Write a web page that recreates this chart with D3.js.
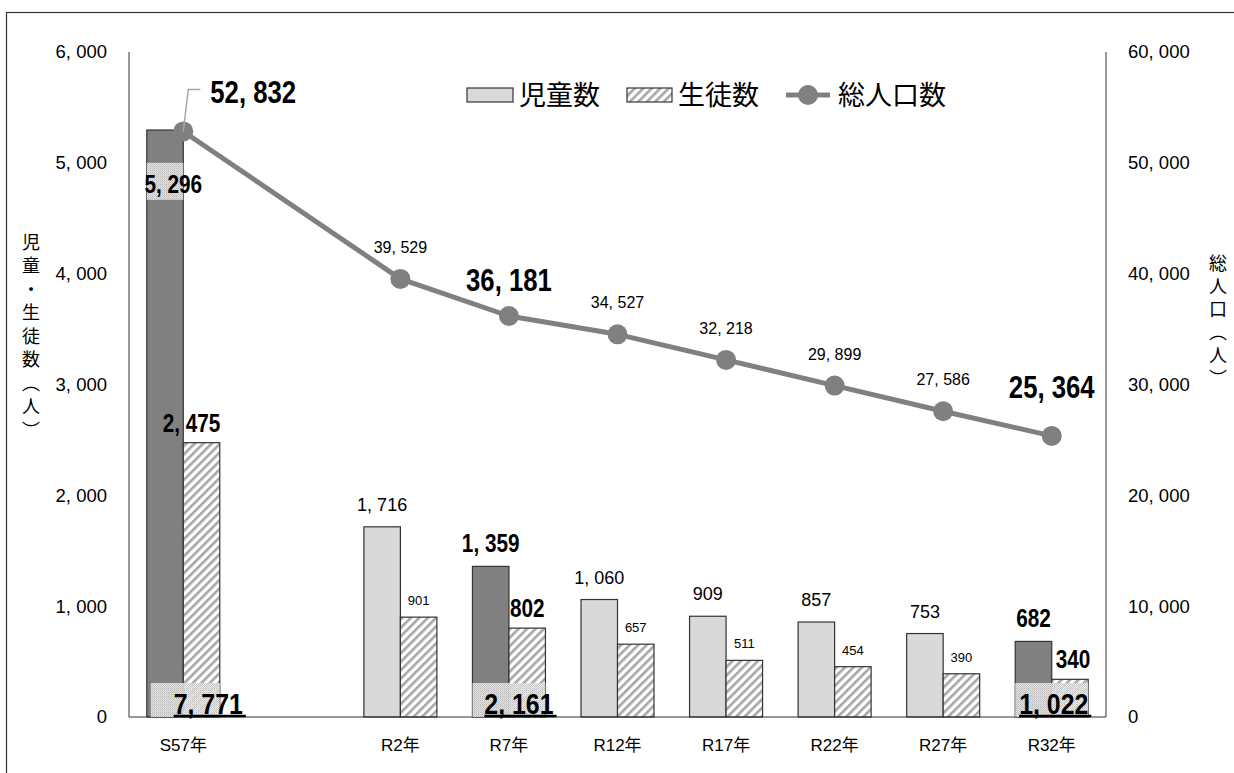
<!DOCTYPE html>
<html><head><meta charset="utf-8">
<script src="https://cdn.jsdelivr.net/npm/d3@7"></script>
<style>
html,body{margin:0;padding:0;background:#fff;}
svg{display:block;}
</style></head>
<body>
<svg id="chart" width="1234" height="773"></svg>
<script>
// ---- data ----
const categories = ["S57年","R2年","R7年","R12年","R17年","R22年","R27年","R32年"];
const children   = [5296, 1716, 1359, 1060, 909, 857, 753, 682];
const students   = [2475, 901, 802, 657, 511, 454, 390, 340];
const population = [52832, 39529, 36181, 34527, 32218, 29899, 27586, 25364];
const highlighted = ["S57年","R7年","R32年"];
const leftTicks  = [0,1000,2000,3000,4000,5000,6000];
const rightTicks = [0,10000,20000,30000,40000,50000,60000];
const legendLabels = ["児童数","生徒数","総人口数"];
const leftTitle = "児童・生徒数（人）";
const rightTitle = "総人口（人）";

// ---- layout ----
const svg = d3.select("#chart");
const L = 129, R = 1106, T = 52, B = 717;
const domain = [categories[0], "__gap__", ...categories.slice(1)];
const x = d3.scaleBand().domain(domain).range([L, R]).padding(0);
const yL = d3.scaleLinear().domain([0, 6000]).range([B, T]);
const yR = d3.scaleLinear().domain([0, 60000]).range([B, T]);
const barW = 36.5;
const cx = c => x(c) + x.bandwidth() / 2;
const fmt = v => d3.format(",")(v).replace(",", ", ");

const JP = "'Noto Sans CJK JP', sans-serif";
const NUM = "'Liberation Sans', Arial, 'Noto Sans CJK JP', sans-serif";
const BOLD = "'Liberation Sans', Arial, sans-serif";
const SX = 0.83;

// bold condensed text helper
function boldText(x0, y0, str, size, anchor = "middle") {
  const g = svg.append("g").attr("transform", `translate(${x0},${y0}) scale(${SX},1)`);
  return g.append("text").attr("x", 0).attr("y", 0).attr("text-anchor", anchor)
    .attr("font-family", BOLD).attr("font-weight", "bold").attr("font-size", size)
    .attr("fill", "#000").text(str);
}

// patterns
const defs = svg.append("defs");
const hatch = defs.append("pattern").attr("id","hatch").attr("patternUnits","userSpaceOnUse")
  .attr("width",6).attr("height",6).attr("patternTransform","rotate(45)");
hatch.append("rect").attr("width",6).attr("height",6).attr("fill","#fff");
hatch.append("rect").attr("x",0).attr("width",2.6).attr("height",6).attr("fill","#a6a6a6");
const dots = defs.append("pattern").attr("id","dots").attr("patternUnits","userSpaceOnUse")
  .attr("width",2).attr("height",2);
dots.append("rect").attr("width",2).attr("height",2).attr("fill","#ececec");
dots.append("rect").attr("x",0).attr("y",0).attr("width",1).attr("height",1).attr("fill","#bdbdbd");
dots.append("rect").attr("x",1).attr("y",1).attr("width",1).attr("height",1).attr("fill","#cfcfcf");

// outer frame
svg.append("rect").attr("x",6.5).attr("y",12.5).attr("width",1300).attr("height",900)
  .attr("fill","none").attr("stroke","#333").attr("stroke-width",1.2);

// axes lines
const axisG = svg.append("g");
axisG.append("line").attr("x1",L).attr("x2",L).attr("y1",T).attr("y2",B).attr("stroke","#333");
axisG.append("line").attr("x1",R).attr("x2",R).attr("y1",T).attr("y2",B).attr("stroke","#333");

// tick labels via d3 axes (hide domain and tick lines)
const axL = svg.append("g").attr("transform",`translate(${L},0)`)
  .call(d3.axisLeft(yL).tickValues(leftTicks).tickFormat(fmt).tickSize(0).tickPadding(22));
const axR = svg.append("g").attr("transform",`translate(${R},0)`)
  .call(d3.axisRight(yR).tickValues(rightTicks).tickFormat(fmt).tickSize(0).tickPadding(22));
[axL, axR].forEach(a => {
  a.select(".domain").remove();
  a.selectAll("text").attr("font-family",NUM).attr("font-size",18.5).attr("fill","#000");
});
const axB = svg.append("g").attr("transform",`translate(0,${B})`)
  .call(d3.axisBottom(x).tickValues(categories).tickSize(0).tickPadding(22));
axB.select(".domain").remove();
axB.selectAll("text").attr("font-family",NUM).attr("font-size",17).attr("fill","#000");

// bars
const idx = d3.range(categories.length);
const barsG = svg.append("g");
barsG.selectAll("rect.child").data(idx).join("rect").attr("class","child")
  .attr("x", i => cx(categories[i]) - barW).attr("width", barW)
  .attr("y", i => yL(children[i])).attr("height", i => B - yL(children[i]))
  .attr("fill", i => highlighted.includes(categories[i]) ? "#808080" : "#d9d9d9")
  .attr("stroke","#333").attr("stroke-width",1.2);
barsG.selectAll("rect.stud").data(idx).join("rect").attr("class","stud")
  .attr("x", i => cx(categories[i])).attr("width", barW)
  .attr("y", i => yL(students[i])).attr("height", i => B - yL(students[i]))
  .attr("fill","url(#hatch)").attr("stroke","#333").attr("stroke-width",1.2);

// baseline
axisG.append("line").attr("x1",L).attr("x2",R).attr("y1",B).attr("y2",B).attr("stroke","#333").attr("stroke-width",1.2);
axisG.raise();

// total boxes for highlighted
const hiIdx = idx.filter(i => highlighted.includes(categories[i]));
const totalOffset = {"S57年": 25, "R7年": 10, "R32年": 2};
const boxInset = {"S57年": 4, "R7年": 0, "R32年": 0};
hiIdx.forEach(i => {
  const c = categories[i];
  const total = children[i] + students[i];
  svg.append("rect").attr("x", cx(c) - barW + boxInset[c]).attr("y", B - 34)
    .attr("width", 2*barW - boxInset[c]).attr("height", 34)
    .attr("fill","url(#dots)").attr("opacity",0.92);
  const t = boldText(cx(c) + totalOffset[c], B - 3, fmt(total), 30);
  const bb = t.node().getBBox();
  const x1 = cx(c) + totalOffset[c] + bb.x * SX;
  svg.append("line").attr("x1", x1).attr("x2", x1 + bb.width * SX + 3)
    .attr("y1", B - 1).attr("y2", B - 1).attr("stroke","#000").attr("stroke-width",2.5);
});

// 5,296 label box on S57 children bar
{
  const c = categories[0];
  svg.append("rect").attr("x", cx(c) - barW).attr("y", yL(5000)).attr("width", barW).attr("height", 37)
    .attr("fill","url(#dots)").attr("opacity",0.92);
  boldText(cx(c) - 10, yL(5000) + 30, fmt(children[0]), 25);
}

// bar value labels
idx.forEach(i => {
  const c = categories[i];
  if (i === 0) return;
  const hi = highlighted.includes(c);
  if (hi) boldText(cx(c) - barW/2, yL(children[i]) - 14, fmt(children[i]), 25);
  else svg.append("text").attr("x", cx(c) - barW/2).attr("y", yL(children[i]) - 16)
    .attr("text-anchor","middle").attr("font-family", NUM).attr("font-size", 18)
    .attr("fill","#000").text(fmt(children[i]));
});
idx.forEach(i => {
  const c = categories[i];
  const hi = highlighted.includes(c);
  const px = cx(c) + barW/2 - (i === 0 ? 10 : 0) + (i === 7 ? 3 : 0);
  if (hi) boldText(px, yL(students[i]) - 11, fmt(students[i]), 25);
  else svg.append("text").attr("x", px).attr("y", yL(students[i]) - 12)
    .attr("text-anchor","middle").attr("font-family", NUM).attr("font-size", 13)
    .attr("fill","#000").text(fmt(students[i]));
});

// population line
const line = d3.line().x((d,i) => cx(categories[i])).y(d => yR(d));
svg.append("path").datum(population).attr("d", line).attr("fill","none")
  .attr("stroke","#808080").attr("stroke-width",5).attr("stroke-linejoin","round");
svg.selectAll("circle.pop").data(population).join("circle").attr("class","pop")
  .attr("cx", (d,i) => cx(categories[i])).attr("cy", d => yR(d)).attr("r",10).attr("fill","#808080");

// leader line for first population label
svg.append("path")
  .attr("d", `M${cx(categories[0])},${yR(population[0])} L${cx(categories[0]) + 5},${yR(population[0]) - 42} L${cx(categories[0]) + 17},${yR(population[0]) - 42}`)
  .attr("fill","none").attr("stroke","#a6a6a6").attr("stroke-width",1.5);

// population labels
population.forEach((v,i) => {
  const c = categories[i];
  const hi = highlighted.includes(c);
  if (i === 0) { boldText(cx(c) + 27, yR(v) - 28, fmt(v), 31, "start"); return; }
  if (hi) { boldText(cx(c), yR(v) - (i === 7 ? 38 : 25), fmt(v), 31); return; }
  svg.append("text").attr("x", cx(c)).attr("y", yR(v) - 26).attr("text-anchor", "middle")
    .attr("font-family", NUM).attr("font-size", 16).attr("fill","#000").text(fmt(v));
});

// legend
const lg = svg.append("g");
const ly = 95;
lg.append("rect").attr("x",467).attr("y",ly-7).attr("width",46).attr("height",14)
  .attr("fill","#d9d9d9").attr("stroke","#333").attr("stroke-width",1.2);
lg.append("text").attr("x",519).attr("y",ly).attr("dy","0.36em").attr("font-family",JP)
  .attr("font-size",27).attr("fill","#000").text(legendLabels[0]);
lg.append("rect").attr("x",627).attr("y",ly-7).attr("width",45).attr("height",14)
  .attr("fill","url(#hatch)").attr("stroke","#333").attr("stroke-width",1.2);
lg.append("text").attr("x",678).attr("y",ly).attr("dy","0.36em").attr("font-family",JP)
  .attr("font-size",27).attr("fill","#000").text(legendLabels[1]);
lg.append("line").attr("x1",786).attr("x2",830).attr("y1",ly).attr("y2",ly)
  .attr("stroke","#808080").attr("stroke-width",5);
lg.append("circle").attr("cx",808).attr("cy",ly).attr("r",10).attr("fill","#808080");
lg.append("text").attr("x",838).attr("y",ly).attr("dy","0.36em").attr("font-family",JP)
  .attr("font-size",27).attr("fill","#000").text(legendLabels[2]);

// axis titles (vertical)
svg.append("text").attr("x",31).attr("y",233).attr("font-family",JP).attr("font-size",18)
  .attr("letter-spacing",5.5).attr("fill","#000")
  .style("writing-mode","vertical-rl").style("text-orientation","upright").text(leftTitle);
svg.append("text").attr("x",1218).attr("y",254).attr("font-family",JP).attr("font-size",18)
  .attr("letter-spacing",5).attr("fill","#000")
  .style("writing-mode","vertical-rl").style("text-orientation","upright").text(rightTitle);
</script>
</body></html>
